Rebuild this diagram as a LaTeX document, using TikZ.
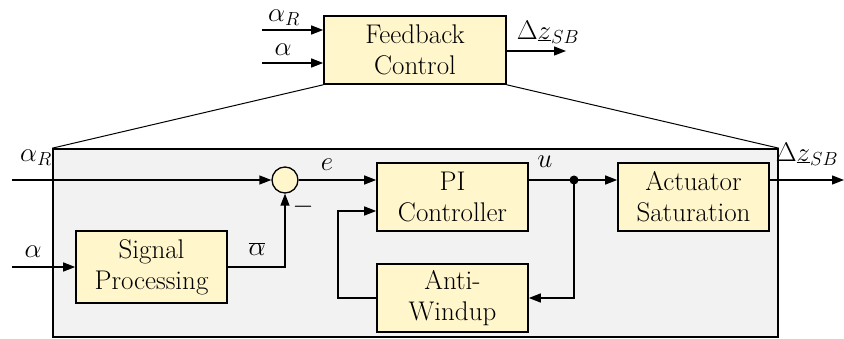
\RequirePackage{fix-cm}
\documentclass[tikz,border=0pt]{standalone}
\usetikzlibrary{arrows.meta,calc}
\definecolor{boxfill}{HTML}{FFF6CC}
\definecolor{bigfill}{HTML}{F2F2F2}
\begin{document}
\begin{tikzpicture}[x=1pt,y=-1pt,
  every node/.style={font=\rmfamily\fontsize{27}{31}\selectfont},
  blk/.style={draw, line width=1.6pt, fill=boxfill, minimum width=151pt, minimum height=68pt, align=center, inner sep=0pt},
  sig/.style={line width=1.3pt},
  arr/.style={sig, -{Triangle[length=12pt,width=9pt]}},
  lbl/.style={inner sep=0pt, font=\fontsize{27}{32}\selectfont}]
\useasboundingbox (0,0) rectangle (844,339);
% big box
\node[draw, line width=1.6pt, fill=bigfill, minimum width=725pt, minimum height=188pt, inner sep=0pt] (big) at (415.5,243) {};
% top box
\node[blk, minimum width=182pt] (fb) at (415,50) {Feedback\\Control};
\draw[line width=1pt] (fb.south west) -- (big.north west);
\draw[line width=1pt] (fb.south east) -- (big.north east);
\coordinate (tinAR) at (262,30);
\coordinate (tinA) at (262,63);
\coordinate (tout) at (566,51);
\draw[arr] (tinAR) -- (tinAR -| fb.west);
\draw[arr] (tinA) -- (tinA -| fb.west);
\draw[arr] (tout -| fb.east) -- (tout);
\node[lbl] (tlAR) at (284,18) {$\alpha_R$};
\node[lbl] (tlA) at (283,50) {$\alpha$};
\node[lbl] (tlZ) at (548,32) {$\Delta\underline{z}_{SB}$};
% inner blocks
\node[blk, minimum height=72pt] (sp) at (151.5,267) {Signal\\Processing};
\node[draw, circle, line width=1.3pt, fill=boxfill, minimum size=26pt, inner sep=0pt] (sum) at (285,180) {};
\node[blk] (pi) at (452.5,197) {PI\\Controller};
\node[blk] (aw) at (452.5,298) {Anti-\\Windup};
\node[blk] (act) at (693.5,197) {Actuator\\Saturation};
\coordinate (inAR) at (12,180);
\coordinate (inA) at (12,267);
\coordinate (outZ) at (844,180);
\coordinate (fbk) at (338,298);
\node[circle, fill=black, minimum size=9pt, inner sep=0pt] (dot) at (574,180) {};
% connectors
\draw[arr] (inAR) -- (sum.west);
\draw[arr] (inA) -- (sp.west);
\draw[arr] (sp.east) -| (sum.south);
\draw[arr] (sum.east) -- (sum.east -| pi.west);
\draw[sig] (dot.center -| pi.east) -- (dot.center);
\draw[arr] (dot.center) -- (dot.center -| act.west);
\draw[arr] (dot.center) |- (aw.east);
\draw[arr] (aw.west) -- (fbk) |- ($(pi.west)+(0,14)$);
\draw[arr] (outZ -| act.east) -- (outZ);
% labels
\node[lbl] (lAR) at (36,158) {$\alpha_R$};
\node[lbl] (lA) at (33,252) {$\alpha$};
\node[lbl] (lE) at (327,165) {$e$};
\node[lbl] (lAb) at (257,249) {$\overline{\alpha}$};
\node[lbl] (lMinus) at (303,207) {$-$};
\node[lbl] (lU) at (545,162) {$u$};
\node[lbl] (lZ) at (807,154) {$\Delta\underline{z}_{SB}$};
\end{tikzpicture}
\end{document}
